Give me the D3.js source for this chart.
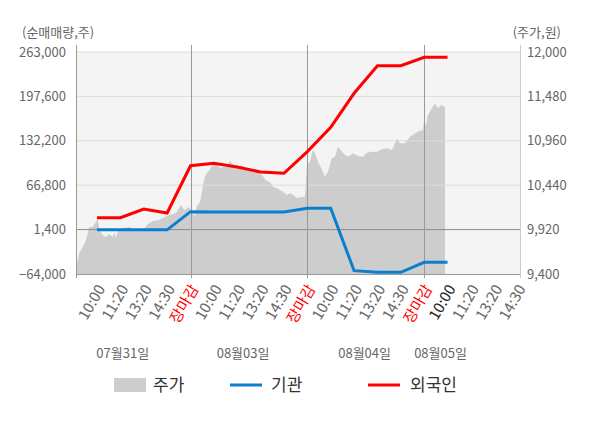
<!DOCTYPE html>
<html>
<head>
<meta charset="utf-8">
<script src="https://cdn.jsdelivr.net/npm/d3@7"></script>
<style>
  body { margin: 0; background: #fff; }
  svg { font-family: "Noto Sans CJK KR", "Noto Sans", sans-serif; }
</style>
</head>
<body>
<div id="chart"></div>
<script>
// time slots: 1 slot = one tick label, 5 slots per trading day
const timeLabels = ["10:00", "11:20", "13:20", "14:30", "장마감"];
const days = ["07월31일", "08월03일", "08월04일", "08월05일"];
const dayLabelSlot = [2.1, 7.25, 12.45, 15.7];

const leftTicks = [-64000, 1400, 66800, 132200, 197600, 263000];
const rightTicks = [9400, 9920, 10440, 10960, 11480, 12000];

// 외국인 / 기관 cumulative net buying, one value per slot (1..16)
const netSlots = [1, 2, 3, 4, 5, 6, 7, 8, 9, 10, 11, 12, 13, 14, 15, 16];
const foreign = [18900, 18900, 31700, 25800, 95500, 99000, 93600, 86200, 84300, 116200,
                 152100, 202200, 242800, 242800, 255200, 255200];
const inst = [1000, 1000, 1000, 1000, 27800, 27500, 27500, 27500, 27500, 32800,
              32800, -59100, -61600, -61600, -46800, -46800];

// 주가 (price), [slot, value]
const priceSlot = [0.10, 0.24, 0.39, 0.53, 0.67, 0.81, 0.96, 1.03, 1.10, 1.24, 1.38, 1.52, 1.67, 1.74,
  1.81, 1.88, 2.10, 2.38, 2.67, 2.95, 3.17, 3.38, 3.67, 3.88, 4.09, 4.38, 4.59, 4.73, 4.95, 5.09,
  5.12, 5.19, 5.26, 5.41, 5.48, 5.55, 5.62, 5.69, 5.83, 5.98, 6.12, 6.26, 6.40, 6.55, 6.69, 6.83,
  6.97, 7.19, 7.40, 7.69, 7.83, 8.05, 8.26, 8.40, 8.54, 8.69, 8.83, 8.97, 9.12, 9.26, 9.40, 9.54,
  9.68, 9.90, 9.98, 10.11, 10.24, 10.33, 10.46, 10.63, 10.75, 10.88, 11.05, 11.18, 11.31, 11.48,
  11.61, 11.74, 11.95, 12.17, 12.38, 12.55, 12.77, 12.98, 13.19, 13.41, 13.62, 13.84, 13.96, 14.18,
  14.39, 14.61, 14.82, 14.95, 14.99, 15.08, 15.16, 15.33, 15.46, 15.59, 15.72, 15.85, 15.89];
const price = [9482, 9646, 9716, 9798, 9950, 9950, 10009, 10044, 9915, 9857, 9833, 9868, 9833, 9892,
  9822, 9892, 9939, 9950, 9904, 9904, 9986, 10021, 10032, 10068, 10091, 10114, 10208, 10150, 10185, 10091,
  10126, 10068, 10185, 10243, 10349, 10466, 10536, 10583, 10618, 10712, 10700, 10641, 10653, 10653, 10723, 10677,
  10641, 10677, 10618, 10630, 10618, 10559, 10489, 10477, 10419, 10407, 10384, 10360, 10325, 10349, 10325, 10290,
  10298, 10306, 10677, 10716, 10852, 10813, 10716, 10618, 10540, 10598, 10755, 10774, 10891, 10832,
  10794, 10774, 10813, 10782, 10774, 10821, 10832, 10832, 10860, 10872, 10852, 10989, 10930, 10930,
  11008, 11048, 11079, 11086, 11184, 11145, 11262, 11340, 11399, 11340, 11379, 11360, 11360];

const W = 600, H = 428;
const m = { left: 76, right: 520, top: 52, bottom: 274 };

const svg = d3.select("#chart").append("svg")
  .attr("width", W).attr("height", H);

const x = d3.scaleLinear().domain([0.1, 19.1]).range([m.left, m.right]);
const yL = d3.scaleLinear().domain([-64000, 263000]).range([m.bottom, m.top]);
const yR = d3.scaleLinear().domain([9400, 12000]).range([m.bottom, m.top]);

// plot background
svg.append("rect")
  .attr("x", m.left).attr("y", m.top)
  .attr("width", m.right - m.left).attr("height", m.bottom - m.top)
  .attr("fill", "#f4f4f4");

// price area
const priceData = priceSlot.map((s, i) => [s, price[i]]);
svg.append("path")
  .datum(priceData)
  .attr("fill", "#cdcdcd")
  .attr("d", d3.area().x(d => x(d[0])).y0(m.bottom).y1(d => yR(d[1])));

// horizontal gridlines
svg.selectAll(".grid")
  .data(leftTicks.slice(1))
  .enter().append("line")
  .attr("x1", m.left).attr("x2", m.right)
  .attr("y1", d => yL(d)).attr("y2", d => yL(d))
  .attr("stroke", d => d === 1400 ? "#8c8c8c" : "#dcdcdc")
  .attr("stroke-width", 1);

// day separators + axis frame
const daySlots = [5, 10, 15];
svg.selectAll(".dayline")
  .data(daySlots)
  .enter().append("line")
  .attr("x1", d => Math.round(x(d)) + 0.5).attr("x2", d => Math.round(x(d)) + 0.5)
  .attr("y1", 45).attr("y2", m.bottom + 4)
  .attr("stroke", "#999");

svg.append("line")
  .attr("x1", m.left + 0.5).attr("x2", m.left + 0.5)
  .attr("y1", 45).attr("y2", m.bottom + 4)
  .attr("stroke", "#999");
svg.append("line")
  .attr("x1", m.right + 0.5).attr("x2", m.right + 0.5)
  .attr("y1", 45).attr("y2", m.bottom + 4)
  .attr("stroke", "#ccc");
svg.append("line")
  .attr("x1", m.left).attr("x2", m.right)
  .attr("y1", m.bottom + 0.5).attr("y2", m.bottom + 0.5)
  .attr("stroke", "#999");

// net buying lines
const line = d3.line().x(d => x(d[0])).y(d => yL(d[1]));
svg.append("path")
  .datum(netSlots.map((s, i) => [s, inst[i]]))
  .attr("fill", "none").attr("stroke", "#0a7fcf").attr("stroke-width", 3)
  .attr("d", line);
svg.append("path")
  .datum(netSlots.map((s, i) => [s, foreign[i]]))
  .attr("fill", "none").attr("stroke", "#ff0000").attr("stroke-width", 3)
  .attr("d", line);

// left axis labels
svg.selectAll(".ltick")
  .data(leftTicks)
  .enter().append("text")
  .attr("x", 66).attr("y", d => yL(d))
  .attr("dy", "0.36em")
  .attr("text-anchor", "end")
  .attr("font-size", 13).attr("fill", "#666")
  .text(d => d3.format(",")(d));

// right axis labels
svg.selectAll(".rtick")
  .data(rightTicks)
  .enter().append("text")
  .attr("x", 527).attr("y", d => yR(d))
  .attr("dy", "0.36em")
  .attr("text-anchor", "start")
  .attr("font-size", 13).attr("fill", "#666")
  .text(d => d3.format(",")(d));

svg.append("text").attr("x", 22).attr("y", 37)
  .attr("font-size", 13).attr("fill", "#666").text("(순매매량,주)");
svg.append("text").attr("x", 561).attr("y", 37).attr("text-anchor", "end")
  .attr("font-size", 13).attr("fill", "#666").text("(주가,원)");

// time tick labels
const ticks = [];
days.forEach((d, di) => {
  timeLabels.forEach((t, k) => {
    const s = di * 5 + k + 1;
    if (s <= 19) ticks.push({ s, t, cur: s === 16 });
  });
});
svg.selectAll(".xt")
  .data(ticks)
  .enter().append("text")
  .attr("transform", d => `translate(${x(d.s) + 4},${m.bottom + 12}) rotate(-60)`)
  .attr("text-anchor", "end")
  .attr("dy", "0.35em")
  .attr("font-size", 15)
  .attr("fill", d => d.t === "장마감" ? "#ff0000" : (d.cur ? "#222" : "#666"))
  .text(d => d.t);

// date labels
svg.selectAll(".dl")
  .data(days)
  .enter().append("text")
  .attr("x", (d, i) => x(dayLabelSlot[i]))
  .attr("y", 358)
  .attr("text-anchor", "middle")
  .attr("font-size", 13).attr("fill", "#666")
  .text(d => d);

// legend
const lg = svg.append("g");
lg.append("rect").attr("x", 114).attr("y", 378).attr("width", 32).attr("height", 14).attr("fill", "#cdcdcd");
lg.append("text").attr("x", 153).attr("y", 391).attr("font-size", 17).attr("fill", "#333").text("주가");
lg.append("line").attr("x1", 230).attr("x2", 262).attr("y1", 385).attr("y2", 385)
  .attr("stroke", "#0a7fcf").attr("stroke-width", 3);
lg.append("text").attr("x", 271).attr("y", 391).attr("font-size", 17).attr("fill", "#333").text("기관");
lg.append("line").attr("x1", 368).attr("x2", 400).attr("y1", 385).attr("y2", 385)
  .attr("stroke", "#ff0000").attr("stroke-width", 3);
lg.append("text").attr("x", 410).attr("y", 391).attr("font-size", 17).attr("fill", "#333").text("외국인");
</script>
</body>
</html>
